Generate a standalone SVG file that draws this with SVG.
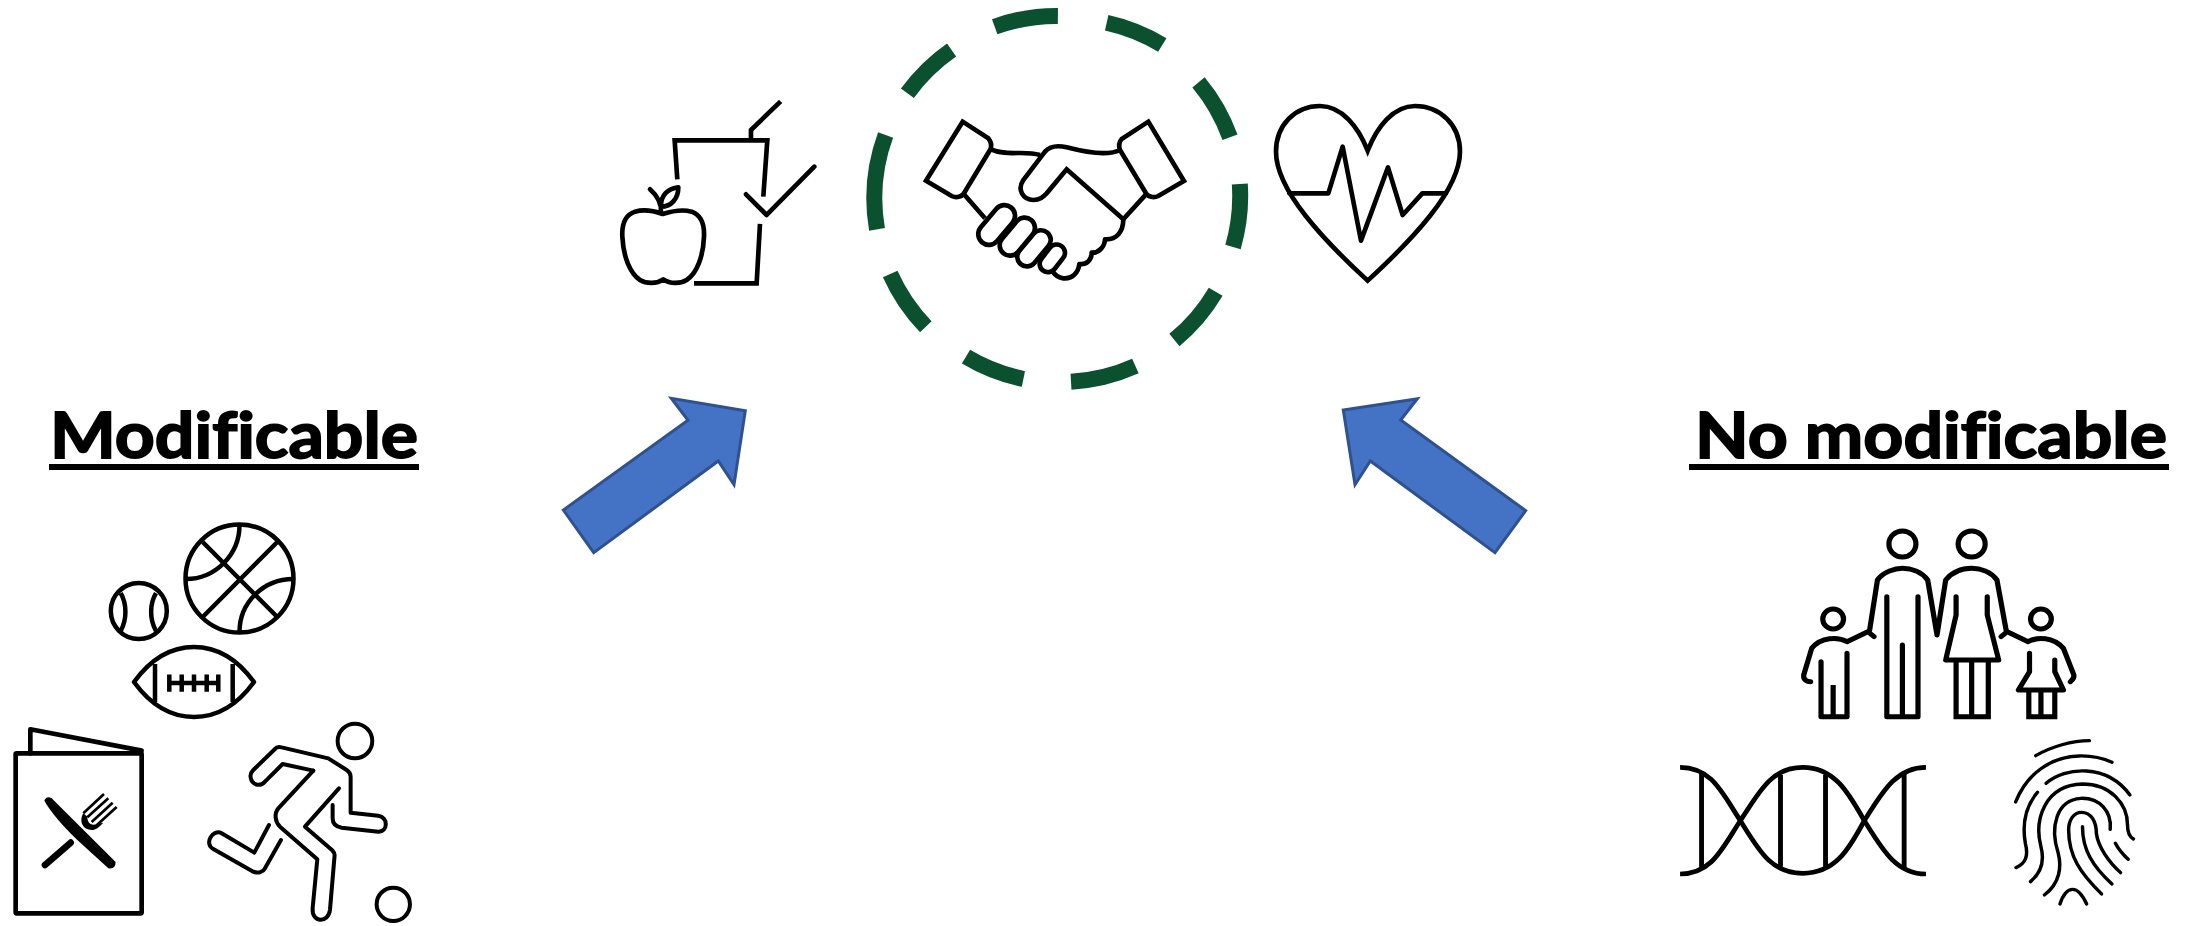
<svg xmlns="http://www.w3.org/2000/svg" width="2203" height="926" viewBox="0 0 2203 926">
<style>
.i{fill:none;stroke:#000;stroke-width:14;stroke-linejoin:miter;stroke-linecap:butt}
.r{stroke-linecap:round;stroke-linejoin:round}
.t{font-family:"Lato","Liberation Sans",sans-serif;font-weight:700;font-size:64px;fill:#000;stroke:#000;stroke-width:1.8px;font-variant-ligatures:none}
.a{fill:#4472c4;stroke:#2f528f;stroke-width:3;stroke-linejoin:miter}
.d{fill:none;stroke:#0b5130;stroke-width:16}
</style>
<rect width="2203" height="926" fill="#fff"/>

<g id="label-modificable">
<text class="t" x="50" y="458" textLength="368" lengthAdjust="spacingAndGlyphs">Modificable</text>
<rect x="49" y="464" width="370" height="6"/>
</g>
<g id="label-no-modificable">
<text class="t" x="1695" y="458" textLength="472" lengthAdjust="spacingAndGlyphs">No modificable</text>
<rect x="1689" y="464" width="480" height="6"/>
</g>

<g id="connectors">
<polygon class="a" points="563.3,510 593.7,552.7 718.3,461 734,484.7 745.3,410.7 671.3,398.3 688,420.3"/>
<polygon class="a" points="1525.7,510.7 1495,552.7 1370.3,461 1355,484.7 1343.3,410 1417.3,398.7 1400.7,420"/>
</g>

<g id="dashed-circle">
<path class="d" d="M994.7,26.7A183,183 0 0 1 1057.9,16M1106.7,22.7A183,183 0 0 1 1162.3,45M1198.5,82.3A183,183 0 0 1 1230,137.3M1239.8,184A183,183 0 0 1 1233,247M1215.7,291.7A183,183 0 0 1 1174.4,340M1135.4,366A183,183 0 0 1 1071,381.7M1023.4,379A183,183 0 0 1 966,356.7M925.8,326.7A183,183 0 0 1 890.2,274M877,229.3A183,183 0 0 1 885.6,135M907.4,93.3A183,183 0 0 1 951.6,50"/>
</g>

<g id="handshake" transform="translate(910,100) scale(.3333)">
<path class="i" d="M158,65L48,242L125,288C140,295 155,290 162,280L240,150C248,135 243,125 235,115Z"/>
<path class="i" d="M715,65L822,243L745,288C730,295 715,290 708,280L630,150C625,135 628,125 635,117Z"/>
<path class="i" d="M243,148C290,170 340,150 390,165"/>
<path class="i" d="M630,150C590,170 520,155 470,142C440,135 420,138 405,155L340,240C320,270 340,300 370,300C390,300 400,290 410,280L470,208L640,358L708,283"/>
<path class="i" d="M162,283L225,355"/>
<path class="i r" d="M640,358C640,395 620,420 585,418C585,440 565,460 545,458C545,480 530,495 508,492C505,520 485,538 460,535C445,533 435,525 428,515"/>
<g class="i" style="fill:#fff">
<rect x="-46" y="-25" width="92" height="50" rx="25" transform="translate(427,475) rotate(-52)"/>
<rect x="-62" y="-29" width="124" height="58" rx="29" transform="translate(372,445) rotate(-50)"/>
<rect x="-65" y="-31" width="130" height="62" rx="31" transform="translate(322,410) rotate(-50)"/>
<rect x="-68" y="-32" width="136" height="64" rx="32" transform="translate(260,375) rotate(-50)"/>
</g>
</g>

<g id="heart" transform="translate(1260,90) scale(.3333)">
<path class="i" d="M323,182C295,110 245,48 180,48C105,48 48,105 48,185C48,300 190,450 323,572C456,450 600,300 600,185C600,105 541,48 465,48C400,48 351,110 323,182Z"/>
<path class="i r" d="M88,310H205L248,170L303,452L384,232L428,375L487,310H558"/>
</g>

<g id="cup-apple" transform="translate(550,60) scale(.3333)">
<path class="i" d="M382,358L374,241H652L640,410M630,492L620,670H432M603,240V210L692,124"/>
<path class="i r" d="M588,403L650,465L793,320"/>
<path class="i r" d="M338,462C310,452 280,448 255,455C225,465 215,490 217,530C220,590 240,640 270,660C290,672 320,672 340,658C360,672 390,672 410,660C440,640 460,590 462,530C464,490 452,465 425,455C400,448 370,452 338,462Z"/>
<path class="i r" d="M333,458C335,435 325,410 300,388M333,440C332,405 355,385 385,382C385,415 365,440 333,440Z"/>
</g>

<g id="basketball">
<g style="fill:none;stroke:#000;stroke-width:4.5">
<circle cx="239.5" cy="578.6" r="54"/>
<path d="M202.7,542L277.3,617M277.3,542L202.7,617M239.5,525C239.5,555 215,579 186,579M239.5,632C239.5,602 264,579 293,579"/>
</g>
</g>
<g id="baseball">
<g style="fill:none;stroke:#000;stroke-width:4.5">
<circle cx="138.8" cy="611" r="28"/>
<path d="M120.7,593.2C127,604 127,619 120.7,631M156,593.2C149.5,604 149.5,619 156,631"/>
</g>
</g>
<g id="football">
<g style="fill:none;stroke:#000;stroke-width:4.5;stroke-linejoin:round">
<path d="M134,682C150,660 170,647 194,647C218,647 238,660 254,682C238,704 218,717 194,717C170,717 150,704 134,682Z"/>
<path d="M155,664V702M232.7,664V702M168.3,683H219.3M169.3,674.4V691.8M181.7,674.4V691.8M194,674.4V691.8M206.7,674.4V691.8M218.3,674.4V691.8"/>
</g>
</g>

<g id="menu" transform="translate(0,700) scale(.3333)">
<rect class="i r" x="47" y="160" width="378" height="480" rx="3"/>
<path class="i r" d="M91,160V88L425,152"/>
<path d="M133,302Q140,286 155,295L347,486Q347,508 325,505L232,420Q160,350 133,302Z"/>
<path d="M135,495L212,428" style="fill:none;stroke:#000;stroke-width:20;stroke-linecap:round"/>
<path d="M250,340C235,365 250,392 278,390C292,387 298,380 310,368L290,372C275,378 262,370 262,350Z"/>
<path d="M312,282L250,340M325,295L262,352M338,308L275,366M350,321L290,376" style="fill:none;stroke:#000;stroke-width:8"/>
</g>

<g id="runner" transform="translate(0,700) scale(.3333)">
<g class="i r" style="stroke-width:12">
<circle cx="1065" cy="123" r="52"/>
<circle cx="1180" cy="613" r="50"/>
<path d="M940,212L848,192L795,245C780,262 755,255 752,232C750,222 755,215 760,210L825,147C830,140 838,140 845,142L985,175L1040,210C1048,215 1052,222 1052,230V338L1135,347C1165,352 1165,395 1135,395L1025,383C1005,380 998,370 998,355V315"/>
<path d="M940,212L835,325C822,340 825,365 840,380L952,478L938,625C935,670 985,670 990,630L1004,465C1004,458 1000,455 996,450L915,380L1017,265"/>
<path d="M807,375L763,458L665,400C640,385 610,430 640,447L760,515C775,522 790,515 795,505L843,420"/>
</g>
</g>

<g id="family" transform="translate(1660,500) scale(.3463,.3333)">
<g class="i" style="stroke-width:15">
<circle cx="700" cy="132" r="39"/>
<circle cx="900" cy="132" r="39"/>
<circle cx="500" cy="357" r="30"/>
<circle cx="1100" cy="357" r="30"/>
<path class="r" d="M605,393L628,240C645,215 680,205 700,205C725,205 755,215 773,240L800,405L825,240C845,215 875,205 900,205C925,205 955,215 973,240L1000,393"/>
<path class="r" d="M655,290V650H745V290M700,435V650"/>
<path class="r" d="M855,290V345L825,480H978L945,345V290"/>
<path d="M855,480V650H948V480M900,480V650"/>
<path class="r" d="M618,410L600,395L540,425C515,410 465,410 438,445L415,525C413,540 425,545 435,545"/>
<path class="r" d="M465,485V650H540V460"/>
<path d="M500,555V650"/>
<path class="r" d="M985,410L1003,395L1063,425C1090,410 1135,410 1165,445L1195,525C1197,535 1190,540 1185,545"/>
<path class="r" d="M1067,460V515L1035,570H1165L1140,515V480"/>
<path d="M1065,570V650H1140V570M1100,570V650"/>
</g>
</g>

<g id="dna" transform="translate(1660,500) scale(.3463,.3333)">
<g class="i" style="stroke-width:14">
<path d="M58,802C150,802 180,880 232,962C285,1050 320,1120 412,1120C505,1120 545,1050 590,962C640,880 680,802 768,802"/>
<path d="M58,1122C150,1122 180,1045 232,962C285,880 320,802 412,802C505,802 545,880 590,962C640,1045 680,1122 768,1122"/>
<path d="M120,815V1105M348,825V1100M478,825V1100M705,815V1105"/>
</g>
</g>

<g id="fingerprint" transform="translate(1660,500) scale(.3463,.3333)">
<g class="i r" style="stroke-width:10">
<path d="M1085,767C1130,740 1190,722 1240,722"/>
<path d="M1027,906C1060,820 1130,770 1210,768C1245,767 1280,775 1305,787"/>
<path d="M1115,850C1170,800 1290,790 1357,885"/>
<path d="M1028,1103C1055,1090 1065,1070 1055,1030C1045,970 1055,920 1090,877"/>
<path d="M1070,1145C1105,1115 1110,1080 1100,1040C1080,960 1110,855 1220,852C1300,852 1350,910 1350,975C1350,995 1355,1010 1367,1017"/>
<path d="M1110,1185C1155,1150 1160,1100 1150,1060C1125,980 1145,900 1215,895C1270,893 1305,935 1300,988"/>
<path d="M1275,1182C1215,1120 1180,1070 1180,990C1180,960 1195,937 1217,937C1245,937 1260,965 1260,1000C1265,1040 1295,1085 1330,1118"/>
<path d="M1220,980C1220,1050 1250,1100 1305,1152"/>
<path d="M1315,1030C1325,1050 1338,1065 1352,1078"/>
<path d="M1155,1212C1165,1180 1180,1168 1192,1168C1205,1168 1220,1185 1232,1212"/>
</g>
</g>
</svg>
